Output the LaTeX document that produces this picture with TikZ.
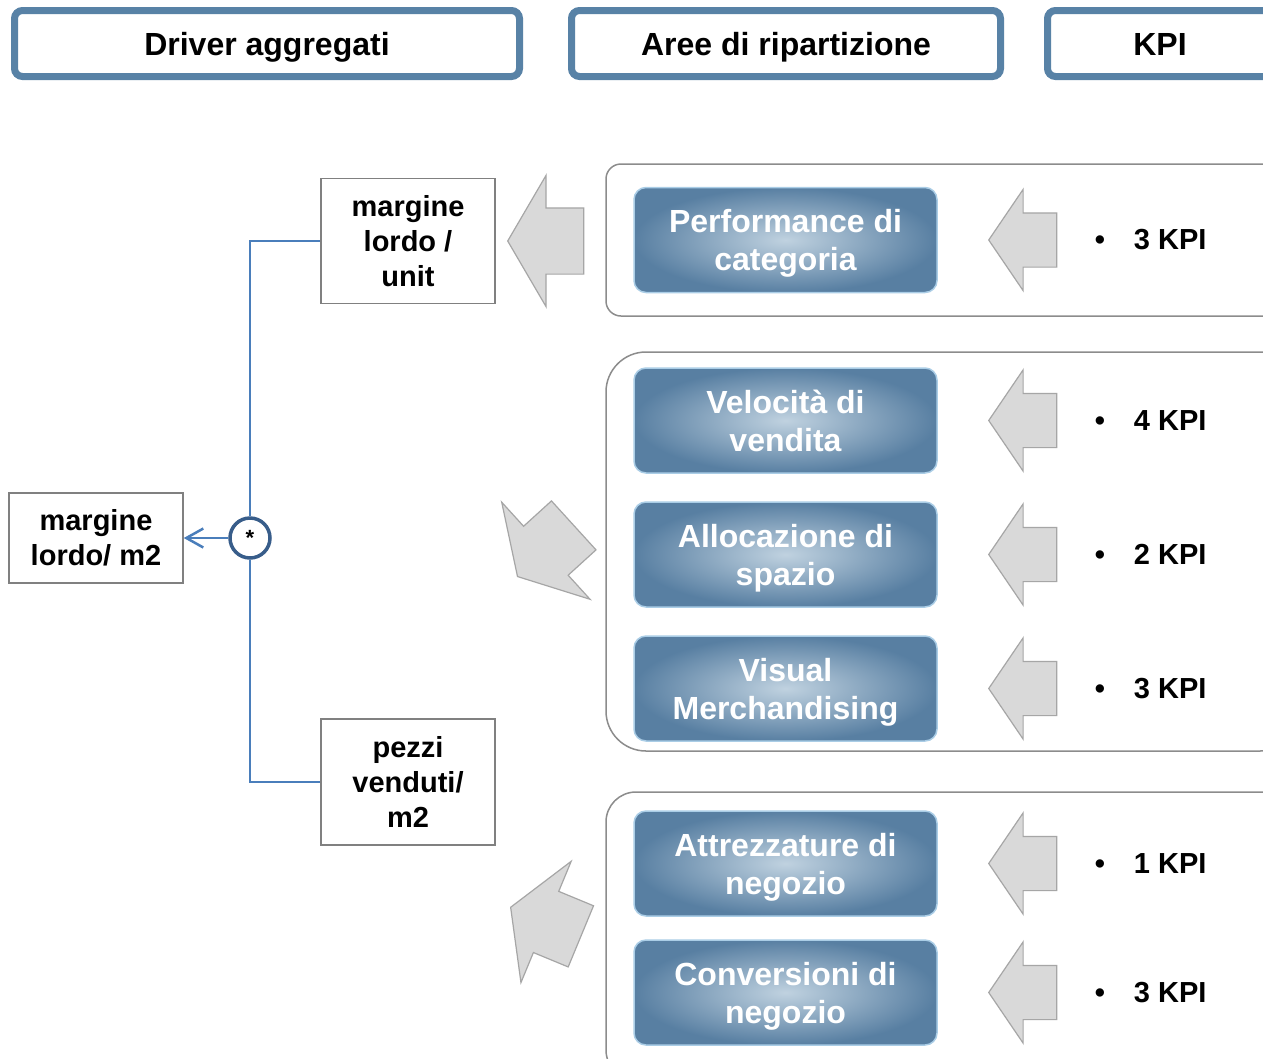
\documentclass[tikz,border=0pt]{standalone}
\usepackage{fontspec}
\setmainfont{Liberation Sans}
\usetikzlibrary{shapes.arrows,arrows.meta,positioning}

\definecolor{hdrblue}{RGB}{88,130,166}
\definecolor{grpgray}{RGB}{140,140,140}
\definecolor{arrfill}{RGB}{217,217,217}
\definecolor{arrdraw}{RGB}{166,166,166}
\definecolor{boxgray}{RGB}{128,128,128}
\definecolor{treeblue}{RGB}{74,126,187}
\definecolor{stardark}{RGB}{56,93,138}
\definecolor{areadark}{RGB}{88,127,162}
\definecolor{arealight}{RGB}{192,210,224}
\definecolor{areaedge}{RGB}{170,205,230}

\begin{document}
\begin{tikzpicture}[x=1pt, y=-1pt,
    header/.style={rectangle, draw=hdrblue, line width=7pt, rounded corners=8pt, minimum height=66pt, text height=23pt, text depth=0pt, font=\fontsize{32}{38}\selectfont\bfseries},
    driver/.style={rectangle, draw=boxgray, line width=1.5pt, fill=white, minimum width=174pt, align=center, font=\fontsize{29}{35}\selectfont\bfseries},
    area/.style={rectangle, rounded corners=12pt, draw=areaedge, line width=1.5pt, inner color=arealight, outer color=areadark, minimum width=303pt, minimum height=105pt, text depth=0pt, align=center, text=white, font=\fontsize{32}{38}\selectfont\bfseries},
    kpi/.style={font=\fontsize{29}{35}\selectfont\bfseries, inner sep=0pt, anchor=west},
    bigarrow/.style={single arrow, draw=arrdraw, fill=arrfill, line width=1.2pt, inner xsep=0pt, inner ysep=32.5pt, single arrow head extend=32.5pt, single arrow tip angle=119.4, minimum height=76pt},
    kpiarrow/.style={single arrow, draw=arrdraw, fill=arrfill, line width=1.2pt, inner xsep=0pt, inner ysep=26.5pt, single arrow head extend=23.5pt, single arrow tip angle=111.6, minimum height=68pt},
    grp/.style={draw=grpgray, line width=1.5pt},
    tree/.style={draw=treeblue, line width=2.5pt},
    joint/.style={circle, draw=stardark, line width=3.5pt, fill=white, minimum size=40pt, inner sep=0pt, font=\fontsize{22}{22}\selectfont\bfseries}
]
\useasboundingbox (0,0) rectangle (1263,1058);
\fill[white] (0,0) rectangle (1263,1058);
\clip (0,0) rectangle (1263,1058);

% column headers
\node[header, minimum width=505pt] (hdrdriver) at (267,43.5) {Driver aggregati};
\node[header, minimum width=429pt] (hdrarea) at (786,43.5) {Aree di ripartizione};
\node[header, minimum width=225pt] (hdrkpi) at (1160,43.5) {KPI};

% groups of areas
\draw[grp, rounded corners=15pt] (606,164) rectangle (1300,316);
\draw[grp, rounded corners=40pt] (606,352) rectangle (1300,751);
\draw[grp, rounded corners=30pt] (606,792) rectangle (1300,1080);

% areas, arrows and KPI
\foreach \i/\y/\n/\txt in {1/240/3/{Performance di\\categoria},
                           2/420.5/4/{Velocità di\\vendita},
                           3/554.5/2/{Allocazione di\\spazio},
                           4/688.5/3/{Visual\\Merchandising},
                           5/863.5/1/{Attrezzature di\\negozio},
                           6/992.5/3/{Conversioni di\\negozio}} {
    \node[area] (area\i) at (785.5,\y) {\txt};
    \node[kpiarrow, rotate=180, anchor=tip] (kpiarr\i) at (988,\y) {};
    \node[kpi, right=157pt of area\i] (kpi\i) {\makebox[39pt][l]{•}\n\ KPI};
}

% arrows towards the drivers
\node[bigarrow, rotate=180, anchor=tip] (arrtop) at (507,241) {};
\node[bigarrow, rotate=222.3, anchor=tip] (arrmid) at (517,577) {};
\node[bigarrow, rotate=157.5, anchor=tip] (arrlow) at (510,907) {};

% drivers
\node[driver, minimum height=125pt] (mlu) at (408,241) {margine\\lordo /\\unit};
\node[driver, minimum height=126pt] (pvm) at (408,782) {pezzi\\venduti/\\m2};
\node[driver, minimum height=90pt] (mlm) at (96,538) {margine\\lordo/ m2};
\node[joint] (star) at (250,538) {*};

\draw[tree] (mlu.west) -| (star);
\draw[tree] (pvm.west) -| (star);
\draw[tree, -{Straight Barb[length=17pt,width=19pt]}] (star) -- (mlm);
\end{tikzpicture}
\end{document}
